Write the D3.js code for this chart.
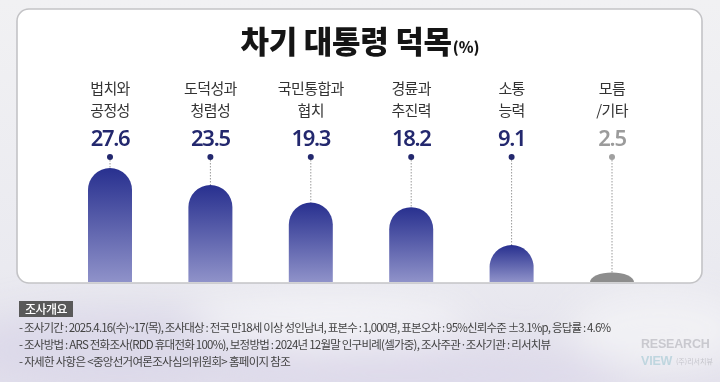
<!DOCTYPE html>
<html><head><meta charset="utf-8">
<script src="https://cdn.jsdelivr.net/npm/d3@7"></script>
<style>
html,body{margin:0;padding:0;background:#ececf0;}
svg{display:block;font-family:"Noto Sans CJK KR","Noto Sans",sans-serif;}
</style></head>
<body>
<svg id="chart" width="720" height="382"></svg>
<script>
// ---- data ----
const labelLine1 = ["법치와", "도덕성과", "국민통합과", "경륜과", "소통", "모름"];
const labelLine2 = ["공정성", "청렴성", "협치", "추진력", "능력", "/기타"];
const values = [27.6, 23.5, 19.3, 18.2, 9.1, 2.5];
const isOther = [false, false, false, false, false, true];
const titleMain = "차기 대통령 덕목";
const titleUnit = "(%)";
const noteTitle = "조사개요";
const noteLines = [
  "- 조사기간 : 2025.4.16(수)~17(목), 조사대상 : 전국 만18세 이상 성인남녀, 표본수 : 1,000명, 표본오차 : 95%신뢰수준 ±3.1%p, 응답률 : 4.6%",
  "- 조사방법 : ARS 전화조사(RDD 휴대전화 100%), 보정방법 : 2024년 12월말 인구비례(셀가중), 조사주관·조사기관 : 리서치뷰",
  "- 자세한 사항은 <중앙선거여론조사심의위원회> 홈페이지 참조"
];

const svg = d3.select("#chart");
const W = 720, H = 382;
const defs = svg.append("defs");

// background
const bg = defs.append("linearGradient").attr("id","bg").attr("x1",0).attr("y1",0).attr("x2",0).attr("y2",1);
bg.append("stop").attr("offset","0%").attr("stop-color","#f1f1f3");
bg.append("stop").attr("offset","70%").attr("stop-color","#eaeaf0");
bg.append("stop").attr("offset","100%").attr("stop-color","#e3e1ec");
svg.append("rect").attr("width",W).attr("height",H).attr("fill","url(#bg)");
const blur = defs.append("filter").attr("id","blur").attr("x","-50%").attr("y","-50%").attr("width","200%").attr("height","200%");
blur.append("feGaussianBlur").attr("stdDeviation",18);
const wash = svg.append("g").attr("filter","url(#blur)");
wash.append("ellipse").attr("cx",120).attr("cy",350).attr("rx",160).attr("ry",40).attr("fill","#d9d6e8").attr("opacity",0.8);
wash.append("ellipse").attr("cx",430).attr("cy",375).attr("rx",200).attr("ry",30).attr("fill","#dcd8ea").attr("opacity",0.8);
wash.append("ellipse").attr("cx",330).attr("cy",320).attr("rx",140).attr("ry",25).attr("fill","#f4f4f7").attr("opacity",0.9);
wash.append("ellipse").attr("cx",660).attr("cy",330).attr("rx",90).attr("ry",40).attr("fill","#f2f2f5").attr("opacity",0.9);

// card
svg.append("rect").attr("x",17).attr("y",9).attr("width",685).attr("height",274)
  .attr("rx",12).attr("ry",12).attr("fill","#ffffff").attr("stroke","#c3c3c6").attr("stroke-width",1.6);

// title
const title = svg.append("text").attr("x",360).attr("y",53).attr("text-anchor","middle")
  .attr("fill","#151515");
title.append("tspan").text(titleMain).attr("font-size",31).attr("font-weight",900).attr("letter-spacing","-0.3");
title.append("tspan").text(titleUnit).attr("font-size",15).attr("font-weight",900).attr("dx",1);

// scales
const x = d3.scalePoint().domain(d3.range(values.length)).range([110, 612]);
const y = d3.scaleLinear().domain([0, 30]).range([283, 158]);
const barW = 44;

// gradient
const grad = defs.append("linearGradient").attr("id","barGrad").attr("x1",0).attr("y1",0).attr("x2",0).attr("y2",1);
grad.append("stop").attr("offset","0%").attr("stop-color","#28308f");
grad.append("stop").attr("offset","100%").attr("stop-color","#8f92c9");

function barPath(i, v){
  const cx = x(i), x0 = cx - barW/2, x1 = cx + barW/2;
  const yb = y(0) - 1, yt = y(v);
  const rx = barW/2, ry = Math.min(rx, yb - yt);
  return `M${x0},${yb}L${x0},${yt+ry}A${rx},${ry} 0 0 1 ${x1},${yt+ry}L${x1},${yb}Z`;
}

const g = svg.append("g");
const items = g.selectAll("g.item").data(values).join("g").attr("class","item");

// dotted leader lines
const dotY = 157;
items.append("line")
  .attr("x1",(d,i)=>x(i)).attr("x2",(d,i)=>x(i))
  .attr("y1",dotY).attr("y2",(d)=>y(d))
  .attr("stroke","#9a9a9a").attr("stroke-width",1).attr("stroke-dasharray","1.5,1.5");
items.append("circle").attr("cx",(d,i)=>x(i)).attr("cy",dotY).attr("r",3)
  .attr("fill",(d,i)=>isOther[i] ? "#a0a0a0" : "#23286e");

// bars
items.append("path").attr("d",(d,i)=>barPath(i,d))
  .attr("fill",(d,i)=>isOther[i] ? "#8d8d8d" : "url(#barGrad)");

// value labels
items.append("text").attr("x",(d,i)=>x(i)).attr("y",146).attr("text-anchor","middle")
  .attr("font-family","'Noto Sans','Noto Sans CJK KR',sans-serif")
  .attr("font-size",22).attr("font-weight",600).attr("letter-spacing","-1.3")
  .attr("fill",(d,i)=>isOther[i] ? "#9b9b9b" : "#23286e")
  .text(d=>d.toFixed(1));

// category labels
items.append("text").attr("x",(d,i)=>x(i)).attr("y",93.5).attr("text-anchor","middle")
  .attr("font-size",15).attr("letter-spacing","-0.6").attr("fill","#333")
  .text((d,i)=>labelLine1[i]);
items.append("text").attr("x",(d,i)=>x(i)).attr("y",115.5).attr("text-anchor","middle")
  .attr("font-size",15).attr("letter-spacing","-0.6").attr("fill","#333")
  .text((d,i)=>labelLine2[i]);

// footer
svg.append("rect").attr("x",19).attr("y",301).attr("width",54).attr("height",16).attr("fill","#595959");
svg.append("text").attr("x",46).attr("y",313.5).attr("text-anchor","middle").attr("fill","#fff")
  .attr("font-size",12).attr("font-weight",500).attr("letter-spacing","-0.5").text(noteTitle);
const lineTargets = [591, 531, 271];
noteLines.forEach((t,i)=>{
  const tx = svg.append("text").attr("x",19).attr("y",332 + i*17).attr("fill","#434343")
    .attr("font-size",11.5).attr("letter-spacing","-0.6").text(t);
  const len = tx.node().getComputedTextLength();
  const n = t.length;
  const adj = (lineTargets[i] - len) / n;
  tx.attr("letter-spacing", (-0.6 + adj).toFixed(2));
});

// logo
const logo = svg.append("g");
logo.append("text").attr("x",641).attr("y",348).attr("font-family","'Liberation Sans',sans-serif")
  .attr("font-size",12.5).attr("font-weight",700).attr("fill","#c9c9cf").attr("letter-spacing","-0.2").text("RESEARCH");
logo.append("text").attr("x",641).attr("y",365).attr("font-family","'Liberation Sans',sans-serif")
  .attr("font-size",12.5).attr("font-weight",700).attr("fill","#bfd6df").attr("letter-spacing","-0.2").text("VIEW");
logo.append("text").attr("x",676).attr("y",364).attr("font-size",7).attr("fill","#c5c5cb").text("(주)리서치뷰");
</script>
</body></html>
